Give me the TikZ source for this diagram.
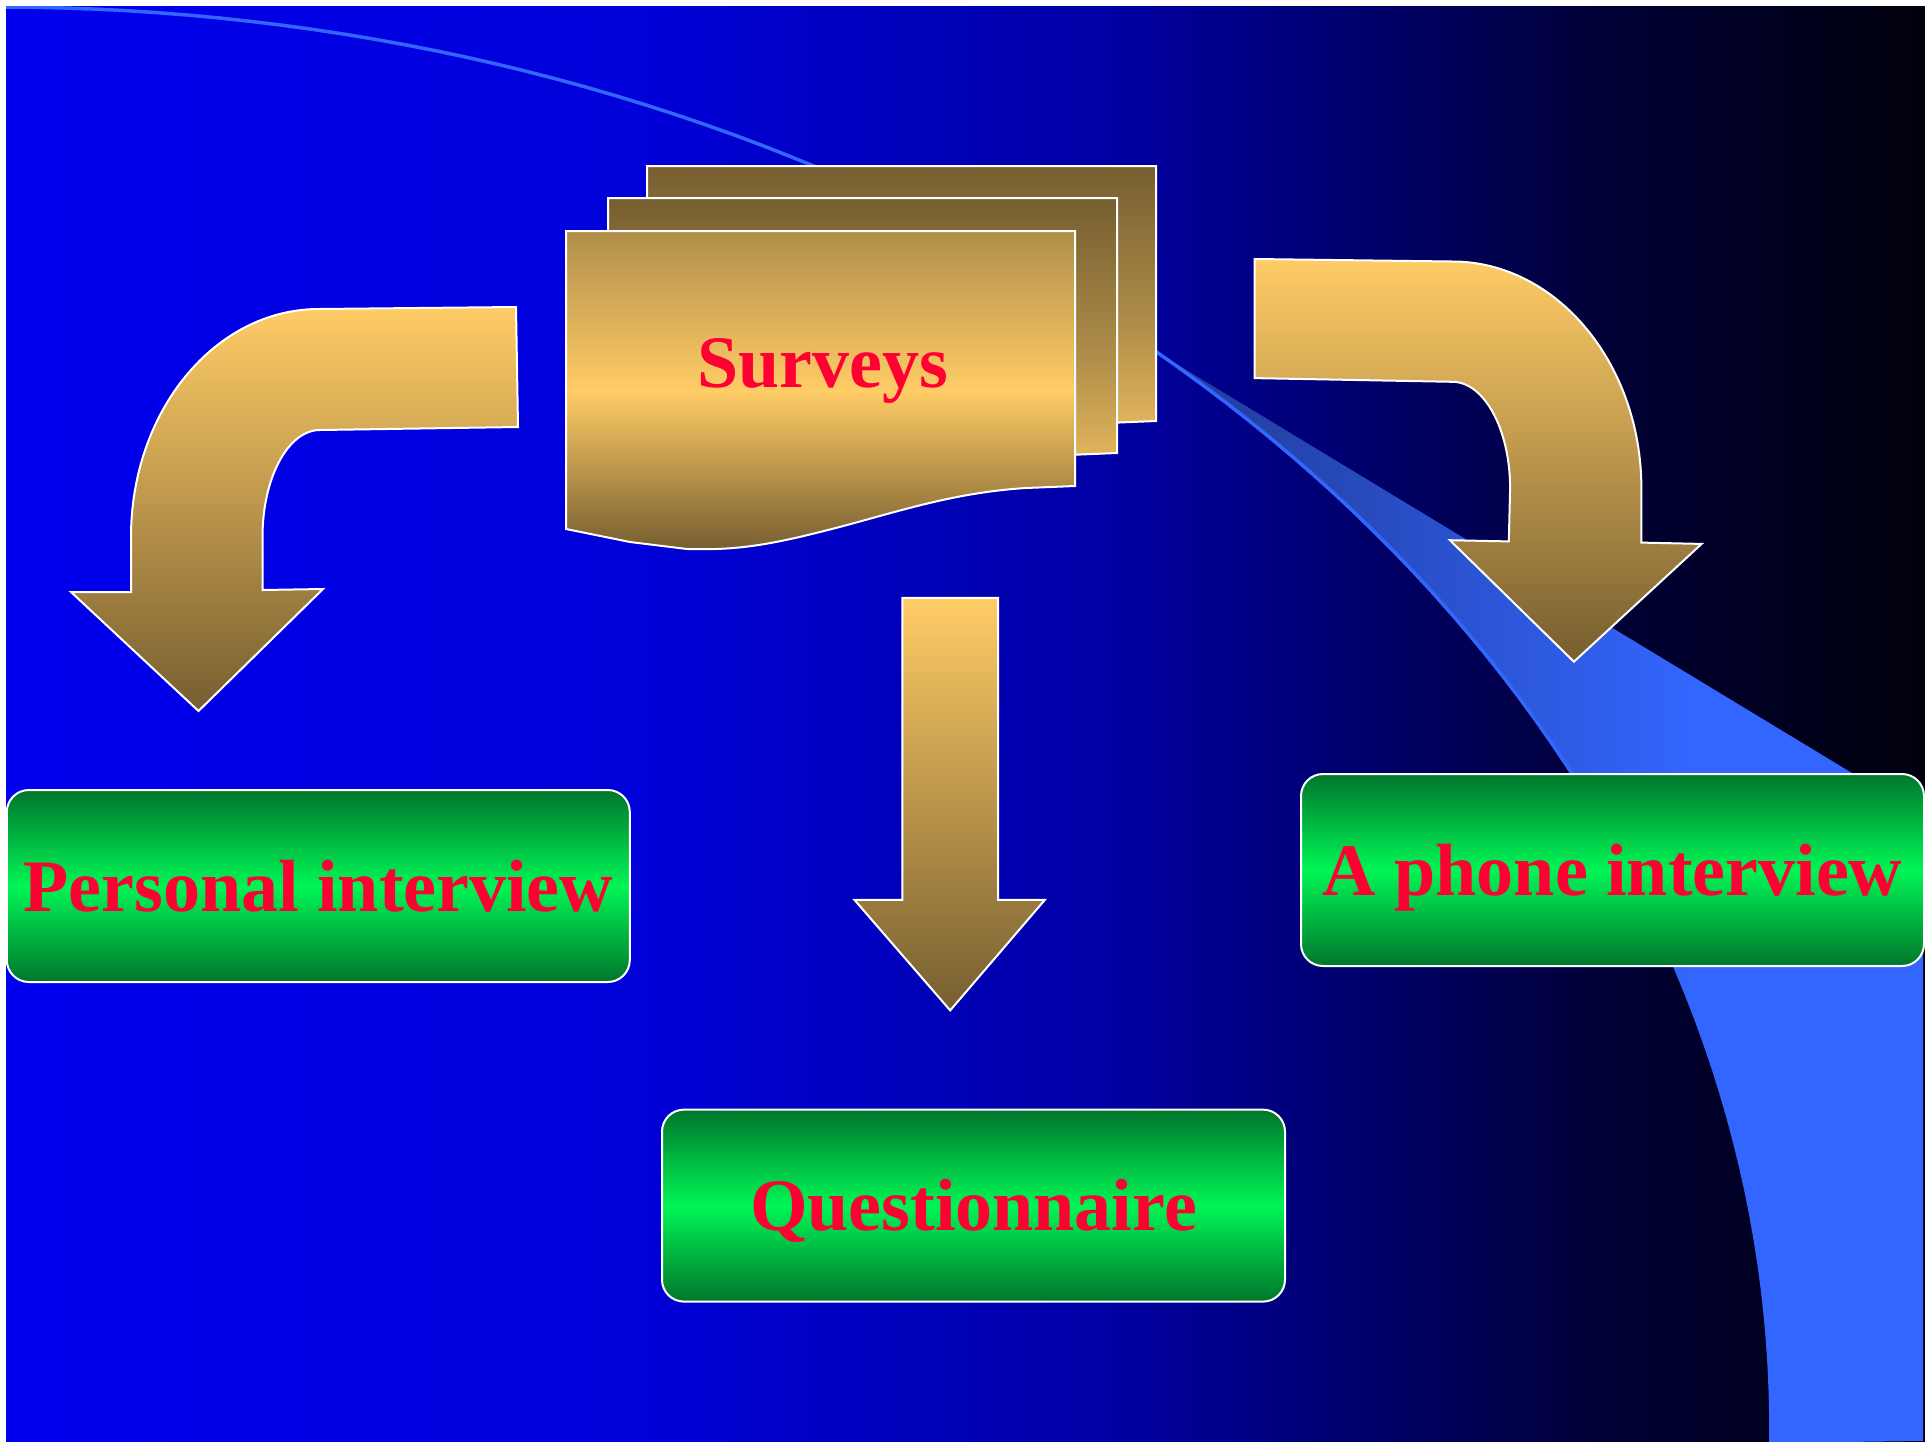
\documentclass[tikz,border=0pt]{standalone}
\usepackage{fontspec}
\setmainfont{Liberation Serif}

\definecolor{tanlight}{RGB}{255,204,102}
\definecolor{tanmid}{RGB}{176,142,74}
\definecolor{tandark}{RGB}{118,94,48}
\definecolor{greendark}{RGB}{0,118,44}
\definecolor{greenlight}{RGB}{0,245,85}
\definecolor{labelred}{RGB}{255,0,51}
\definecolor{swooshblue}{RGB}{51,102,255}
\definecolor{swooshdark}{RGB}{32,58,148}
\definecolor{bgA}{RGB}{0,0,238}
\definecolor{bgB}{RGB}{0,0,216}
\definecolor{bgC}{RGB}{0,0,165}
\definecolor{bgD}{RGB}{0,0,100}
\definecolor{bgE}{RGB}{0,0,55}
\definecolor{bgF}{RGB}{0,0,12}

\pgfdeclarehorizontalshading{slidebg}{100bp}{color(0bp)=(bgA); color(25bp)=(bgA);
  color(41.5bp)=(bgB); color(53.5bp)=(bgC); color(61.3bp)=(bgD); color(66.5bp)=(bgE);
  color(75bp)=(bgF); color(100bp)=(bgF)}
\pgfdeclarehorizontalshading{swooshfill}{100bp}{color(0bp)=(swooshdark); color(25bp)=(swooshdark);
  color(60bp)=(swooshblue); color(100bp)=(swooshblue)}

\begin{document}
\begin{tikzpicture}[x=1pt,y=-1pt,
  tanarrow/.style={draw=white,line width=2pt,top color=tanlight,bottom color=tandark},
  pagebox/.style={draw=white,line width=2pt},
  labelfont/.style={font=\bfseries\fontsize{74}{80}\selectfont,text=labelred},
  gbox/.style={labelfont,draw=white,line width=2pt,rounded corners=22pt,
    minimum width=623pt,minimum height=192pt,inner sep=0pt,text height=50pt,text depth=0pt,
    top color=greendark,bottom color=greendark,middle color=greenlight}]
  \useasboundingbox (0,0) rectangle (1925,1441);
  \fill[white] (0,0) rectangle (1925,1441);
  \shade[shading=slidebg] (6,6) rectangle (1925,1441);

  % swoosh: quarter ellipse, centre (0,1428), radii 1771 and 1421
  \begin{scope}
    \clip (6,6) rectangle (1925,1441);
    \shade[shading=swooshfill] plot[domain=-49.2:0.6,samples=50] ({1771*cos(\x)},{1428+1421*sin(\x)})
      -- (1923,1441) -- (1923,816) -- cycle;
    \draw[swooshblue,line width=3.5pt] plot[domain=-90:0.6,samples=90] ({1771*cos(\x)},{1428+1421*sin(\x)});
  \end{scope}

  % stacked pages
  \foreach \px/\py/\ctop/\cmid/\cbot in {81/-65/tandark/tanmid/tanlight,42/-33/tandark/tanmid/tanlight,0/0/tanmid/tanlight/tandark}
    \draw[pagebox,shift={(566+\px,231+\py)},top color=\ctop,bottom color=\cbot,middle color=\cmid]
      (0,0) -- (509,0) -- (509,255) -- (460,257) .. controls (380,262) and (320,285) .. (250,302)
      .. controls (190,317) and (160,319) .. (121,318) -- (64,311) -- (0,298) -- cycle;
  \node[labelfont,anchor=base] (surveys) at (823,387) {Surveys};

  \draw[tanarrow] (516,307) -- (319,309) .. controls (215,309) and (131,411) .. (131,537)
    -- (131,592) -- (71,592) -- (198.5,711) -- (323,589) -- (262.5,590) -- (262.5,537)
    .. controls (262.5,478) and (288,430) .. (320,430) -- (518,427) -- cycle;
  \draw[tanarrow] (902.4,597.9) -- (998.1,597.9) -- (998.1,899.9) -- (1044.8,899.9)
    -- (950.2,1010.4) -- (854.5,899.9) -- (902.4,899.9) -- cycle;
  \draw[tanarrow] (1254.7,259) -- (1452.4,261.5) .. controls (1556,261.5) and (1641.4,363) .. (1641.4,488.6)
    -- (1641.4,542.6) -- (1701.6,543.9) -- (1573.9,661.7) -- (1449.9,540.2) -- (1508.8,541.4)
    -- (1510.1,488.6) .. controls (1510.1,429) and (1484,381.8) .. (1452.4,381.8) -- (1254.7,378.1) -- cycle;

  \node[gbox] (personal) at (318.3,886) {Personal interview};
  \node[gbox] (questionnaire) at (973.5,1205.6) {Questionnaire};
  \node[gbox] (phone) at (1612.5,870) {A phone interview};
\end{tikzpicture}
\end{document}
